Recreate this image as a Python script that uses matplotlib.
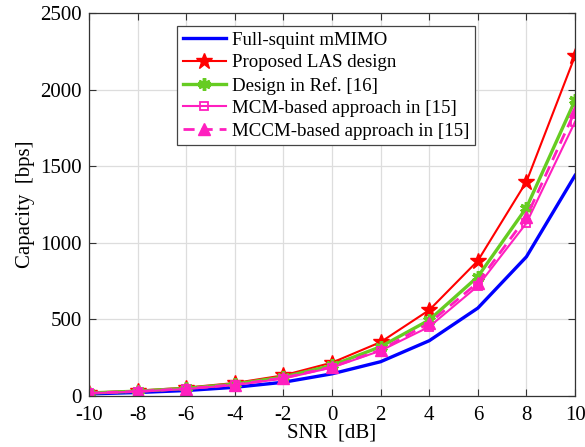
import numpy as np
import matplotlib.pyplot as plt

plt.rcParams['font.family'] = ['Liberation Serif', 'DejaVu Serif']
plt.rcParams['axes.unicode_minus'] = False

snr_db = [-10, -8, -6, -4, -2, 0, 2, 4, 6, 8, 10]

full_squint = [14, 23, 36, 57, 90, 145, 224, 361, 574, 909, 1440]
proposed_las = [22, 35, 55, 85, 135, 218, 352, 561, 883, 1399, 2220]
design_ref16 = [20, 32, 50, 78, 124, 200, 322, 496, 779, 1229, 1930]
mcm_15 = [18, 29, 46, 72, 114, 186, 296, 452, 718, 1129, 1790]
mccm_15 = [19, 30, 48, 74, 118, 190, 300, 476, 740, 1168, 1860]

labels = ['Full-squint mMIMO', 'Proposed LAS design', 'Design in Ref. [16]',
          'MCM-based approach in [15]', 'MCCM-based approach in [15]']

fig = plt.figure(figsize=(5.85, 4.47), dpi=100)
ax = fig.add_axes([0.152, 0.114, 0.831, 0.857])

ax.plot(snr_db, full_squint, color='#0000ff', lw=2.4, label=labels[0])
ax.plot(snr_db, proposed_las, color='#ff0000', lw=1.5, marker='*', ms=12,
        label=labels[1])
ax.plot(snr_db, design_ref16, color='#66cc22', lw=2.4, marker=(6, 2, 0), ms=9,
        mew=2.5, label=labels[2])
ax.plot(snr_db, mcm_15, color='#ff1fbf', lw=1.5, marker='s', ms=6, mfc='none',
        mew=1.3, label=labels[3])
ax.plot(snr_db, mccm_15, color='#ff1fbf', lw=2.0, ls=(0, (4, 2.5)), marker='^',
        ms=9, label=labels[4])

ax.set_xlim(-10, 10)
ax.set_ylim(0, 2500)
ax.set_xticks(np.arange(-10, 11, 2))
ax.set_yticks(np.arange(0, 2501, 500))
ax.grid(True, color='#dddddd', lw=0.9)
ax.set_axisbelow(True)
ax.tick_params(direction='in', top=True, right=True, labelsize=15, length=5,
               color='#333333')
ax.tick_params(axis='x', pad=7)
ax.tick_params(axis='y', pad=5)
for sp in ax.spines.values():
    sp.set_color('#333333')
    sp.set_linewidth(0.9)

ax.set_xlabel('SNR  [dB]', fontsize=15, labelpad=-1)
ax.set_ylabel('Capacity  [bps]', fontsize=15, labelpad=4)

leg = ax.legend(loc='upper left', bbox_to_anchor=(0.181, 0.966), fontsize=13.6,
                handlelength=2.3, handletextpad=0.3, borderpad=0.3,
                labelspacing=0.28, fancybox=False, framealpha=1,
                edgecolor='#444444', borderaxespad=0)
leg.get_frame().set_linewidth(0.9)

fig.savefig('out.png', dpi=100)
